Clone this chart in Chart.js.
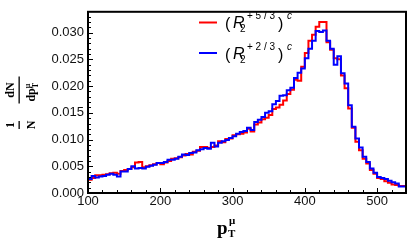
<!doctype html>
<html lang="en">
  <head>
    <meta charset="utf-8">
    <script src="https://cdn.jsdelivr.net/npm/chart.js@4.4.0/dist/chart.umd.min.js"></script>
    <title>pT distribution</title>
    <style>
      html, body { margin: 0; padding: 0; background: #fff; }
      canvas { display: block; }
    </style>
  </head>
  <body>
    <canvas id="myChart" width="408" height="243"></canvas>

    <script>
      // bin lower edges (GeV), width 5
      const binEdges = [100,105,110,115,120,125,130,135,140,145,150,155,160,165,170,175,180,185,190,195,
        200,205,210,215,220,225,230,235,240,245,250,255,260,265,270,275,280,285,290,295,
        300,305,310,315,320,325,330,335,340,345,350,355,360,365,370,375,380,385,390,395,
        400,405,410,415,420,425,430,435,440,445,450,455,460,465,470,475,480,485,490,495,
        500,505,510,515,520,525,530,535];
      const lastEdge = 540;

      // (R2^{+5/3})^c
      const redValues = [0.0025,0.0025,0.0028,0.0033,0.0033,0.0034,0.0035,0.0037,0.0038,0.0036,
        0.0041,0.0043,0.0045,0.0048,0.0057,0.0058,0.0048,0.0050,0.0052,0.0054,
        0.0056,0.0054,0.0057,0.0060,0.0064,0.0065,0.0067,0.0070,0.0073,0.0072,
        0.0077,0.0079,0.0086,0.0086,0.0084,0.0086,0.0089,0.0097,0.0095,0.0101,
        0.0102,0.0108,0.0110,0.0111,0.0113,0.0120,0.0115,0.0128,0.0132,0.0138,
        0.0141,0.0146,0.0157,0.0160,0.0165,0.0173,0.0185,0.0193,0.0212,0.0210,
        0.0236,0.0262,0.0285,0.0296,0.0311,0.0320,0.0320,0.0282,0.0268,0.0252,
        0.0250,0.0220,0.0196,0.0158,0.0122,0.0096,0.0080,0.0064,0.0055,0.0043,
        0.0036,0.0028,0.0026,0.0022,0.0019,0.0016,0.0015,0.0013];

      // (R2^{+2/3})^c
      const blueValues = [0.0026,0.0026,0.0032,0.0029,0.0031,0.0032,0.0034,0.0036,0.0034,0.0031,
        0.0040,0.0040,0.0045,0.0050,0.0046,0.0047,0.0046,0.0049,0.0051,0.0053,
        0.0056,0.0056,0.0058,0.0062,0.0062,0.0064,0.0068,0.0072,0.0071,0.0075,
        0.0076,0.0080,0.0082,0.0084,0.0083,0.0094,0.0087,0.0094,0.0097,0.0099,
        0.0103,0.0106,0.0111,0.0114,0.0116,0.0122,0.0118,0.0133,0.0137,0.0142,
        0.0150,0.0153,0.0166,0.0172,0.0182,0.0183,0.0192,0.0197,0.0215,0.0225,
        0.0233,0.0252,0.0270,0.0285,0.0303,0.0301,0.0304,0.0285,0.0270,0.0240,
        0.0256,0.0224,0.0205,0.0164,0.0124,0.0102,0.0085,0.0068,0.0058,0.0046,
        0.0038,0.0030,0.0028,0.0026,0.0023,0.0020,0.0018,0.0012];

      const xTicks = [100, 200, 300, 400, 500];
      const yTicks = [0, 0.005, 0.010, 0.015, 0.020, 0.025, 0.030];

      // histogram outline points: one per lower edge, plus the closing edge
      function toSteps(vals) {
        const pts = binEdges.map((e, i) => ({x: e, y: vals[i]}));
        pts.push({x: lastEdge, y: vals[vals.length - 1]});
        return pts;
      }

      function drawRuns(ctx, runs, cx, base) {
        let w = 0;
        runs.forEach(r => { ctx.font = r.font; r.w = ctx.measureText(r.t).width; w += r.w + (r.gap || 0); });
        let x = cx - w / 2;
        runs.forEach(r => {
          ctx.font = r.font;
          x += (r.gap || 0);
          ctx.fillText(r.t, x + (r.dx || 0), base + (r.dy || 0));
          if (!r.noAdvance) x += r.w;
        });
      }

      const serifB = (s) => `bold ${s}px "Liberation Serif", "DejaVu Serif", serif`;
      const sans = (s, it) => `${it ? 'italic ' : ''}${s}px "Liberation Sans", Arial, sans-serif`;

      const decor = {
        id: 'decor',
        afterDraw(chart) {
          const ctx = chart.ctx;
          const a = chart.chartArea;
          const xs = chart.scales.x, ys = chart.scales.y;
          ctx.save();

          // inward ticks, major + minor
          ctx.strokeStyle = '#000';
          ctx.lineWidth = 1;
          ctx.beginPath();
          for (let v = 100; v <= 540; v += 20) {
            const px = Math.round(xs.getPixelForValue(v)) + 0.5;
            const len = (v % 100 === 0) ? 5 : 3;
            ctx.moveTo(px, a.bottom); ctx.lineTo(px, a.bottom - len);
          }
          for (let k = 0; k <= 33; k++) {
            const py = Math.round(ys.getPixelForValue(k * 0.001)) + 0.5;
            const len = (k % 5 === 0) ? 5 : 3;
            ctx.moveTo(a.left, py); ctx.lineTo(a.left + len, py);
          }
          ctx.stroke();

          // frame
          ctx.lineWidth = 2;
          ctx.strokeRect(a.left, a.top, a.right - a.left, a.bottom - a.top);

          // legend
          ctx.fillStyle = '#000';
          ctx.textAlign = 'left';
          ctx.textBaseline = 'alphabetic';
          const items = [
            {color: '#ff0000', sup: '+ 5 / 3', y: 28},
            {color: '#0000ff', sup: '+ 2 / 3', y: 58.5}
          ];
          items.forEach(it => {
            ctx.strokeStyle = it.color;
            ctx.lineWidth = 2;
            ctx.beginPath();
            ctx.moveTo(199, it.y - 5.5); ctx.lineTo(217, it.y - 5.5);
            ctx.stroke();
            ctx.font = sans(16); ctx.fillText('(', 225, it.y + 1);
            ctx.font = sans(16, true); ctx.fillText('R', 233, it.y);
            ctx.font = sans(10); ctx.fillText('2', 240, it.y + 4);
            ctx.font = sans(10); ctx.fillText(it.sup, 247, it.y - 9);
            ctx.font = sans(16); ctx.fillText(')', 278, it.y + 1);
            ctx.font = sans(10, true); ctx.fillText('c', 287, it.y - 9);
          });

          // x axis title  p_T^mu
          ctx.fillStyle = '#000';
          ctx.textAlign = 'left';
          ctx.font = serifB(19); ctx.fillText('p', 217, 234);
          ctx.font = serifB(11); ctx.fillText('T', 228, 237);
          ctx.font = serifB(11); ctx.fillText('\u03bc', 229, 224);

          // y axis title (rotated): 1/N dN/dp_T^mu
          const frac = (yc, num, den, barLen) => {
            ctx.save();
            ctx.translate(0, yc);
            ctx.rotate(-Math.PI / 2);
            drawRuns(ctx, num, 0, 14);
            drawRuns(ctx, den, 0, 35);
            ctx.fillRect(-barLen / 2, 18.5, barLen, 1.3);
            ctx.restore();
          };
          frac(125, [{t: '1', font: serifB(12)}], [{t: 'N', font: serifB(12)}], 8);
          frac(90, [{t: 'dN', font: serifB(12)}],
            [{t: 'dp', font: serifB(12)}, {t: 'T', font: serifB(8), dy: 3, noAdvance: true},
             {t: '\u03bc', font: serifB(8), dy: -5}], 27);

          ctx.restore();
        }
      };

      const ctx = document.getElementById('myChart');

      new Chart(ctx, {
        type: 'line',
        data: {
          datasets: [{
            label: '(R2^{+2/3})^c',
            data: toSteps(blueValues),
            borderColor: '#0000ff',
            borderWidth: 2,
            stepped: 'after',
            pointRadius: 0,
            fill: false,
            order: 1
          }, {
            label: '(R2^{+5/3})^c',
            data: toSteps(redValues),
            borderColor: '#ff0000',
            borderWidth: 2,
            stepped: 'after',
            pointRadius: 0,
            fill: false,
            order: 2
          }]
        },
        options: {
          responsive: false,
          animation: false,
          devicePixelRatio: 1,
          layout: { padding: { left: 0, right: 2, top: 2, bottom: 0 } },
          plugins: {
            legend: { display: false },
            tooltip: { enabled: false }
          },
          scales: {
            x: {
              type: 'linear',
              min: 100,
              max: 540,
              afterFit: s => { s.height = 50; },
              afterBuildTicks: s => { s.ticks = xTicks.map(v => ({value: v})); },
              grid: { display: false, drawTicks: false },
              border: { display: false },
              ticks: {
                padding: 1,
                color: '#111',
                font: { family: '"Liberation Sans", Arial, sans-serif', size: 13 },
                maxRotation: 0
              }
            },
            y: {
              min: 0,
              max: 0.0339,
              afterFit: s => { s.width = 88; },
              afterBuildTicks: s => { s.ticks = yTicks.map(v => ({value: v})); },
              grid: { display: false, drawTicks: false },
              border: { display: false },
              ticks: {
                padding: 4,
                color: '#111',
                font: { family: '"Liberation Sans", Arial, sans-serif', size: 13 },
                callback: v => v.toFixed(3)
              }
            }
          }
        },
        plugins: [decor]
      });
    </script>
  </body>
</html>
